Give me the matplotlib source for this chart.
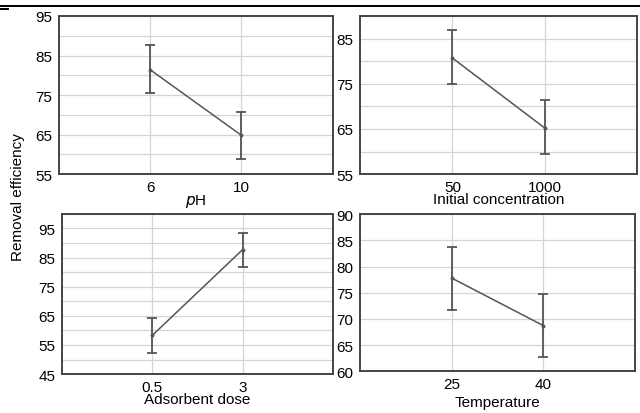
"""Main effects plots: removal efficiency vs four factors (mean +/- error)."""

import matplotlib.pyplot as plt
from matplotlib.lines import Line2D
from matplotlib.ticker import MultipleLocator

plt.rcParams["font.family"] = ["Liberation Sans", "DejaVu Sans"]
plt.rcParams["font.size"] = 11

# data
ph_levels = ["6", "10"]
ph_mean = [81.4, 64.8]
ph_upper = [87.6, 70.8]
ph_lower = [75.4, 58.8]

conc_levels = ["50", "1000"]
conc_mean = [80.7, 65.2]
conc_upper = [86.8, 71.4]
conc_lower = [75.0, 59.4]

dose_levels = ["0.5", "3"]
dose_mean = [58.3, 87.7]
dose_upper = [64.3, 93.6]
dose_lower = [52.1, 81.6]

temp_levels = ["25", "40"]
temp_mean = [77.8, 68.7]
temp_upper = [83.8, 74.7]
temp_lower = [71.7, 62.8]

LINE = "#555555"
GRID = "#d4d4d4"


def effect_panel(ax, levels, mean, upper, lower, xlabel, ylim, yticks, minor, labelpad):
    pos = list(range(1, len(levels) + 1))
    err = [[m - lo for m, lo in zip(mean, lower)], [u - m for m, u in zip(mean, upper)]]
    ax.errorbar(pos, mean, yerr=err, color=LINE, lw=1.1, elinewidth=1.3,
                capsize=3.5, capthick=1.3, marker="o", ms=1.8, zorder=3)
    ax.set_xlim(0, len(levels) + 1)
    ax.set_xticks(pos)
    ax.set_xticklabels(levels)
    ax.set_ylim(*ylim)
    ax.set_yticks(yticks)
    if minor:
        ax.yaxis.set_minor_locator(MultipleLocator(minor))
        ax.grid(True, which="minor", axis="y", color=GRID, lw=0.9)
    ax.grid(True, which="major", color=GRID, lw=0.9)
    ax.set_axisbelow(True)
    ax.tick_params(which="both", length=0, pad=4, labelsize=11)
    ax.tick_params(axis="y", pad=5)
    for s in ax.spines.values():
        s.set_linewidth(1.4)
        s.set_color("#444444")
    ax.set_xlabel(xlabel, labelpad=labelpad, fontsize=11)


fig = plt.figure(figsize=(6.4, 4.14), dpi=100)

ax1 = fig.add_axes([0.092, 0.577, 0.428, 0.382])
effect_panel(ax1, ph_levels, ph_mean, ph_upper, ph_lower, "$\\mathit{p}$H",
             (55, 95), [55, 65, 75, 85, 95], 5, -1)

ax2 = fig.add_axes([0.5625, 0.577, 0.433, 0.382])
effect_panel(ax2, conc_levels, conc_mean, conc_upper, conc_lower, "Initial concentration",
             (55, 90), [55, 65, 75, 85], 5, -1)

ax3 = fig.add_axes([0.097, 0.094, 0.423, 0.387])
effect_panel(ax3, dose_levels, dose_mean, dose_upper, dose_lower, "Adsorbent dose",
             (45, 100), [45, 55, 65, 75, 85, 95], 5, -1)

ax4 = fig.add_axes([0.5625, 0.101, 0.430, 0.379])
effect_panel(ax4, temp_levels, temp_mean, temp_upper, temp_lower, "Temperature",
             (60, 90), [60, 65, 70, 75, 80, 85, 90], None, 3)

fig.text(0.028, 0.524, "Removal efficiency", rotation=90, ha="center", va="center", fontsize=11)

# table rule above the figure
fig.add_artist(Line2D([0, 1], [0.983, 0.983], color="black", lw=1.4, transform=fig.transFigure))
fig.add_artist(Line2D([0, 0.012], [0.976, 0.976], color="black", lw=1.4, transform=fig.transFigure))

fig.savefig("out.png", dpi=100)
